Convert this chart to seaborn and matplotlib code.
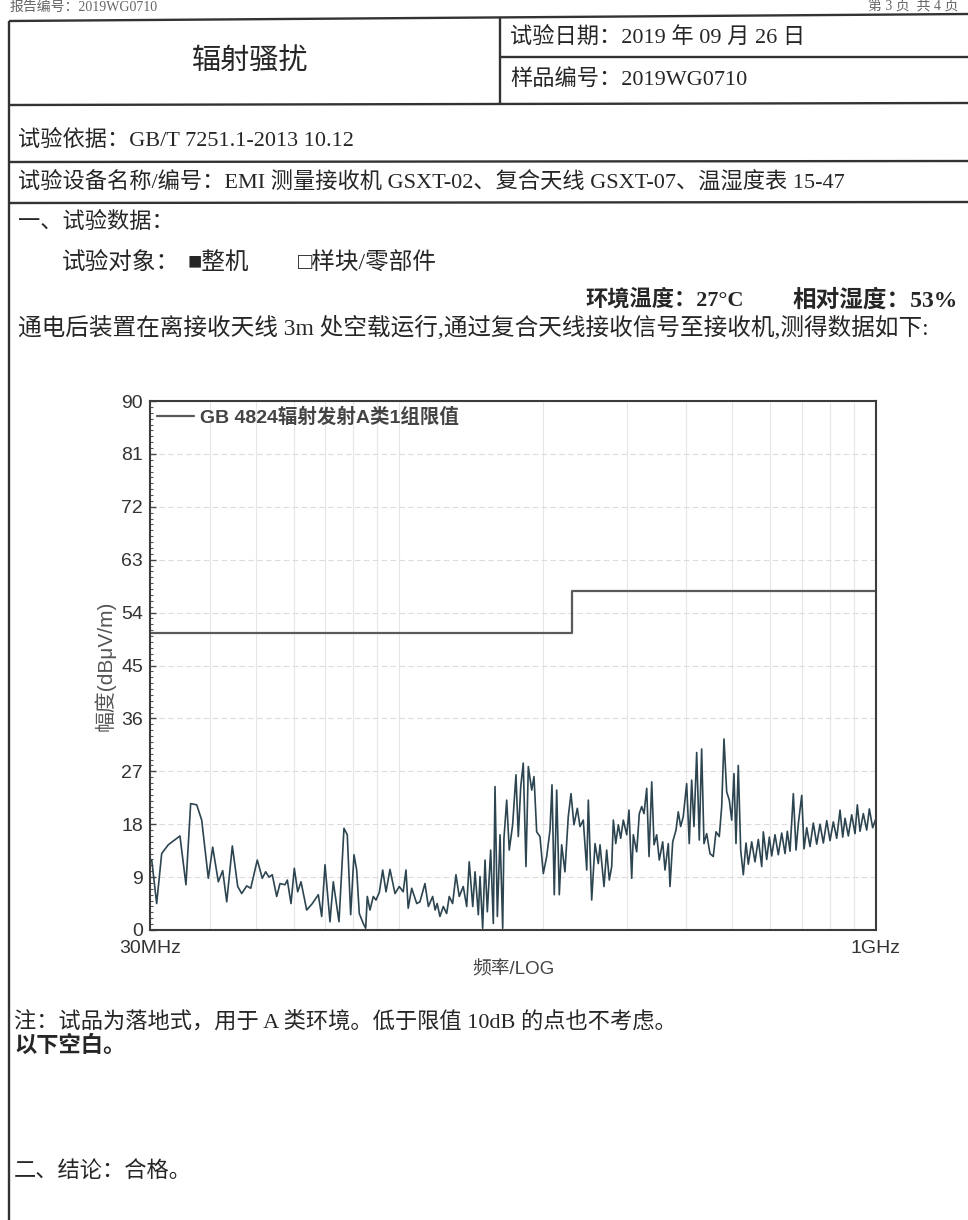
import numpy as np
import pandas as pd
import matplotlib as mpl
import matplotlib.pyplot as plt
import seaborn as sns
from matplotlib.ticker import MultipleLocator, NullFormatter

sns.set_style('white')
TXT = ['Liberation Serif', 'Noto Sans CJK SC']
CHART = ['Liberation Sans', 'Noto Sans CJK SC']
plt.rcParams['font.family'] = CHART
plt.rcParams['axes.unicode_minus'] = False

# GB 4824 A类1组限值 (3m)
limit_freq = [30, 230, 1000]
limit_level = [50.5, 57.7, 57.7]

# 测量曲线 30MHz-100MHz
freq_low = [30.25, 30.98, 31.74, 32.77, 34.67, 35.69, 36.51, 37.59, 38.51, 39.76,
            40.61, 41.73, 42.62, 43.46, 44.65, 45.83, 46.72, 47.86, 48.80, 50.37,
            51.60, 52.45, 53.30, 54.15, 55.32, 56.21, 57.58, 58.23, 59.28, 60.23,
            61.23, 62.21, 63.95, 65.70, 67.63, 68.75, 69.86, 71.56, 72.71, 74.74,
            76.56, 77.79, 79.08, 80.35, 81.41, 82.44, 84.05, 85.03, 85.69, 86.81,
            88.21, 89.37, 90.81, 92.31, 93.80, 95.62, 97.96, 100.0]
amp_low = [11.9, 4.5, 13.0, 14.5, 16.0, 7.7, 21.5, 21.3, 18.7, 8.8,
           14.1, 8.2, 10.1, 4.8, 14.3, 7.4, 6.2, 7.5, 7.1, 11.9,
           8.8, 9.9, 9.0, 9.4, 5.7, 7.9, 7.7, 8.5, 4.5, 10.5,
           6.5, 8.2, 3.4, 4.5, 6.0, 2.3, 11.1, 1.4, 8.2, 1.4,
           17.3, 16.2, 2.6, 12.8, 10.2, 2.8, 1.1, 0.3, 5.7, 3.4,
           5.7, 5.1, 6.4, 10.2, 6.5, 10.3, 6.2, 7.4]

# 100MHz-262MHz
freq_mid = [101.9, 103.3, 104.4, 106.2, 108.8, 110.5, 113.2, 115.1, 117.5, 118.9,
            120.1, 121.7, 123.7, 125.7, 127.3, 129.4, 131.5, 133.6, 136.2, 138.5,
            140.2, 142.6, 144.2, 146.5, 147.7, 149.6, 151.3, 153.0, 155.5, 157.5,
            158.8, 160.6, 162.7, 164.8, 165.8, 168.0, 170.1, 172.9, 175.7, 177.7,
            179.8, 182.0, 184.4, 186.5, 189.6, 191.7, 194.2, 197.3, 200.5, 203.8,
            207.1, 209.1, 211.4, 213.9, 216.6, 219.1, 222.6, 226.2, 229.2, 232.5,
            236.3, 239.4, 243.2, 247.3, 249.2, 253.3, 257.4, 261.5]
amp_mid = [6.5, 10.2, 3.7, 7.1, 4.5, 4.8, 7.9, 4.0, 5.7, 3.4,
           4.5, 2.3, 4.0, 2.8, 5.7, 4.5, 9.4, 5.7, 7.4, 4.0,
           11.6, 4.0, 9.9, 2.6, 9.1, 0.3, 11.9, 3.1, 13.6, 1.1,
           24.4, 2.3, 16.2, 0.3, 15.6, 22.1, 13.6, 17.9, 26.4, 15.9,
           24.4, 28.4, 10.8, 27.8, 23.8, 26.1, 16.7, 15.9, 9.6, 12.5,
           17.0, 24.7, 6.0, 23.8, 6.0, 14.5, 9.9, 19.3, 23.2, 17.9,
           20.7, 17.6, 18.7, 10.2, 22.1, 5.1, 14.7, 11.3]

# 262MHz-1GHz
freq_high = [263.7, 268.8, 272.3, 275.8, 279.0, 281.2, 284.5, 288.1, 291.4, 295.1,
             300.0, 303.3, 307.3, 309.7, 314.8, 318.8, 322.5, 326.1, 330.4, 334.1,
             338.5, 342.3, 346.7, 351.1, 356.9, 360.9, 366.7, 369.7, 374.6, 380.6,
             384.8, 389.3, 394.2, 400.7, 405.8, 410.5, 415.1, 420.6, 425.9, 430.8,
             435.7, 441.4, 448.5, 455.7, 461.7, 469.1, 474.6, 479.9, 486.2, 492.3,
             498.1, 503.6, 508.5, 514.2, 520.2, 526.8, 533.7, 539.7, 548.6, 557.4,
             566.4, 575.8, 580.3, 589.9, 597.4, 604.3, 614.0, 623.9, 634.2, 644.4,
             651.6, 660.1, 670.8, 679.6, 687.2, 698.6, 706.4, 715.6, 727.1, 738.8,
             751.0, 763.1, 775.4, 788.2, 800.9, 813.7, 827.2, 840.5, 851.5, 861.0,
             874.9, 889.3, 903.6, 913.7, 925.7, 940.6, 956.2, 968.3, 984.1, 1000.0]
amp_high = [14.5, 7.4, 13.6, 8.5, 10.8, 18.7, 14.7, 17.9, 15.6, 18.7,
            16.2, 20.4, 8.8, 16.2, 13.3, 19.8, 21.0, 19.8, 24.1, 12.5,
            25.2, 14.5, 16.2, 11.9, 15.0, 10.2, 14.7, 7.4, 15.0, 17.0,
            20.1, 17.6, 19.3, 24.9, 14.7, 25.5, 17.6, 30.2, 15.3, 30.8,
            14.7, 16.4, 13.0, 12.5, 16.7, 15.9, 21.0, 32.5, 23.5, 22.1,
            18.7, 26.6, 14.7, 28.0, 13.6, 9.4, 14.8, 11.2, 15.0, 11.6,
            15.4, 10.8, 16.7, 12.0, 15.8, 12.6, 16.2, 12.8, 16.5, 13.0,
            16.8, 13.4, 23.2, 13.6, 18.1, 22.9, 13.8, 17.4, 14.2, 18.2,
            14.6, 18.0, 14.8, 18.6, 15.2, 18.4, 15.6, 20.4, 15.8, 19.0,
            16.0, 19.6, 16.4, 21.3, 16.8, 19.8, 17.0, 20.6, 17.4, 19.0]

y_ticks = list(range(0, 91, 9))
grid_freqs = [40, 50, 60, 70, 80, 90, 100, 200, 300, 400, 500, 600, 700, 800, 900]
x_tick_freqs = [30, 1000]
x_tick_labels = ['30MHz', '1GHz']

trace = pd.DataFrame({'freq': freq_low + freq_mid + freq_high,
                      'amp': amp_low + amp_mid + amp_high})
limit = pd.DataFrame({'freq': limit_freq, 'level': limit_level})

W, H = 968, 1220
fig = plt.figure(figsize=(W / 100, H / 100), dpi=100)
fig.patch.set_facecolor('white')

# page layer in pixel coordinates
pg = fig.add_axes([0, 0, 1, 1])
pg.set_xlim(0, W); pg.set_ylim(H, 0); pg.axis('off')

def put(x, y, s, size=16, ha='left', color='#262626', **kw):
    pg.text(x, y, s, fontsize=size, family=TXT, ha=ha, va='center', color=color, **kw)

def rule(x0, y0, x1, y1, lw=1.7):
    pg.plot([x0, x1], [y0, y1], color='#333333', lw=lw, solid_capstyle='butt')

# header table
rule(9, 21, 968, 14)
rule(9, 21, 9, H)
rule(500, 17, 500, 105)
rule(500, 57, 968, 57)
rule(9, 105, 968, 103)
rule(9, 162, 968, 161)
rule(9, 203, 968, 202)

put(10, 7, '报告编号：2019WG0710', size=10, color='#666666')
put(958, 6, '第 3 页  共 4 页', size=10, ha='right', color='#666666')
put(250, 62, '辐射骚扰', size=21, ha='center')
put(510, 37, '试验日期：2019 年 09 月 26 日')
put(510, 80, '样品编号：2019WG0710')
put(18, 140, '试验依据：GB/T 7251.1-2013 10.12')
put(18, 182, '试验设备名称/编号：EMI 测量接收机 GSXT-02、复合天线 GSXT-07、温湿度表 15-47')
put(18, 222, '一、试验数据：')
put(62, 263, '试验对象：', size=17)
put(188, 263, '■整机', size=17)
put(298, 263, '□样块/零部件', size=17)
put(585, 300, '环境温度：27°C', fontweight='bold')
put(958, 300, '相对湿度：53%', size=17, ha='right', fontweight='bold')
put(18, 328, '通电后装置在离接收天线 3m 处空载运行,通过复合天线接收信号至接收机,测得数据如下:', size=17)
put(14, 1022, '注：试品为落地式，用于 A 类环境。低于限值 10dB 的点也不考虑。')
put(14, 1046, '以下空白。', fontweight='bold')
put(14, 1172, '二、结论：合格。')

# chart
ax = fig.add_axes([150 / W, (H - 930) / H, 726 / W, 529 / H])
ax.set_facecolor('white')
sns.lineplot(data=trace, x='freq', y='amp', ax=ax, estimator=None, sort=False,
             color='#2c4550', lw=1.2, label='_nolegend_')
sns.lineplot(data=limit, x='freq', y='level', ax=ax, estimator=None, sort=False,
             drawstyle='steps-post', color='#5a5a5a', lw=1.6,
             label='GB 4824辐射发射A类1组限值')

ax.set_xscale('log')
ax.set_xlim(30, 1000)
ax.set_ylim(0, 90)
ax.set_xticks(x_tick_freqs)
ax.set_xticklabels(x_tick_labels)
ax.set_xticks(grid_freqs, minor=True)
ax.xaxis.set_minor_formatter(NullFormatter())
ax.set_yticks(y_ticks)
ax.yaxis.set_minor_locator(MultipleLocator(1))

ax.grid(which='minor', axis='x', color='#e6e6e6', lw=0.8)
ax.grid(which='major', axis='y', color='#dcdcdc', lw=0.8, ls=(0, (5, 3)))
ax.set_axisbelow(True)

ax.tick_params(axis='x', which='both', length=0, pad=7, labelsize=14, labelcolor='#333333')
ax.tick_params(axis='y', which='major', direction='in', length=4, width=1, pad=5,
               labelsize=14, labelcolor='#333333', color='#444444', left=True)
ax.tick_params(axis='y', which='minor', direction='in', length=2.5, width=0.8,
               color='#555555', left=True)

for s in ax.spines.values():
    s.set_visible(True)
    s.set_color('#3c3c3c')
    s.set_linewidth(1.5)

ax.set_xlabel('频率/LOG', fontsize=13.5, color='#444444', labelpad=3)
ax.set_ylabel('幅度(dBμV/m)', fontsize=15, color='#555555', labelpad=4)

leg_font = mpl.font_manager.FontProperties(family=CHART, weight='bold', size=14)
leg = ax.legend(loc='upper left', frameon=False, prop=leg_font, handlelength=1.9,
                handletextpad=0.3, borderaxespad=0.1, borderpad=0.25)
for t in leg.get_texts():
    t.set_color('#444444')

fig.savefig('out.png', dpi=100, facecolor='white')
